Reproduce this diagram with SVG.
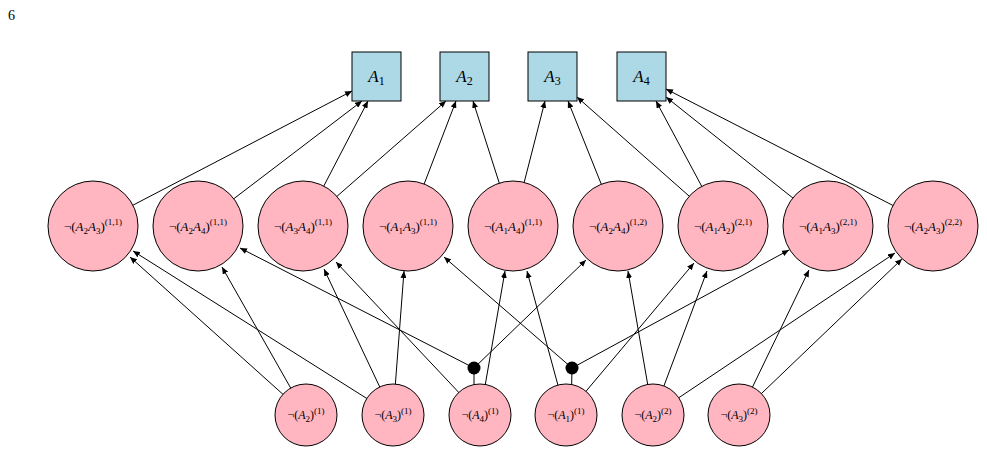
<svg xmlns="http://www.w3.org/2000/svg" width="987" height="454" viewBox="0 0 987 454">
<style>
text{font-family:"Liberation Serif","DejaVu Serif",serif;fill:#000}
.i{font-style:italic}
.box{fill:#add8e6;stroke:#000;stroke-width:1}
.mc{fill:#ffb6c1;stroke:#000;stroke-width:1}
.e{stroke:#000;stroke-width:1;fill:none;marker-end:url(#ah)}
.p{stroke:#000;stroke-width:1;fill:none}
.m{font-size:13px}
.b{font-size:12px}
.s{font-size:9px}
</style>
<defs>
<marker id="ah" markerWidth="7" markerHeight="6" refX="7" refY="3" orient="auto" markerUnits="userSpaceOnUse"><path d="M0,0 L7,3 L0,6 z" fill="#000"/></marker>
</defs>
<text x="8" y="20" font-size="14">6</text>
<g id="connectors">
<line class="e" x1="93" y1="226" x2="352" y2="91"/>
<line class="e" x1="198" y1="226" x2="362" y2="101"/>
<line class="e" x1="303" y1="226" x2="368" y2="101"/>
<line class="e" x1="303" y1="226" x2="446" y2="101"/>
<line class="e" x1="408" y1="226" x2="456" y2="101"/>
<line class="e" x1="513" y1="226" x2="473" y2="101"/>
<line class="e" x1="513" y1="226" x2="545" y2="101"/>
<line class="e" x1="618" y1="226" x2="568" y2="101"/>
<line class="e" x1="723" y1="226" x2="577" y2="97"/>
<line class="e" x1="723" y1="226" x2="656" y2="101"/>
<line class="e" x1="828" y1="226" x2="666" y2="97"/>
<line class="e" x1="933" y1="226" x2="666" y2="89"/>
<line class="e" x1="306" y1="415" x2="130" y2="257"/>
<line class="e" x1="306" y1="415" x2="222" y2="267"/>
<line class="e" x1="393" y1="415" x2="133" y2="251"/>
<line class="e" x1="393" y1="415" x2="324" y2="269"/>
<line class="e" x1="393" y1="415" x2="404" y2="271"/>
<line class="e" x1="480" y1="415" x2="336" y2="262"/>
<line class="e" x1="480" y1="415" x2="505" y2="271"/>
<line class="p" x1="474" y1="415" x2="474" y2="368"/>
<line class="e" x1="474" y1="368" x2="240" y2="248"/>
<line class="e" x1="474" y1="368" x2="586" y2="260"/>
<line class="e" x1="566" y1="415" x2="527" y2="271"/>
<line class="p" x1="571" y1="415" x2="572" y2="368"/>
<line class="e" x1="566" y1="415" x2="694" y2="263"/>
<line class="e" x1="572" y1="368" x2="444" y2="257"/>
<line class="e" x1="572" y1="368" x2="789" y2="250"/>
<line class="e" x1="653" y1="415" x2="628" y2="271"/>
<line class="e" x1="653" y1="415" x2="707" y2="271"/>
<line class="e" x1="653" y1="415" x2="895" y2="253"/>
<line class="e" x1="739" y1="415" x2="809" y2="270"/>
<line class="e" x1="739" y1="415" x2="902" y2="259"/>
</g>
<circle cx="474" cy="368" r="6.5" fill="#000"/>
<circle cx="572" cy="368" r="6.5" fill="#000"/>
<g id="A1"><rect class="box" x="352" y="52" width="49" height="49"/><text x="376.5" y="82" font-size="17" text-anchor="middle"><tspan class="i">A</tspan><tspan font-size="12" dy="3">1</tspan></text></g>
<g id="A2"><rect class="box" x="440" y="52" width="49" height="49"/><text x="464.5" y="82" font-size="17" text-anchor="middle"><tspan class="i">A</tspan><tspan font-size="12" dy="3">2</tspan></text></g>
<g id="A3"><rect class="box" x="528" y="52" width="49" height="49"/><text x="552.5" y="82" font-size="17" text-anchor="middle"><tspan class="i">A</tspan><tspan font-size="12" dy="3">3</tspan></text></g>
<g id="A4"><rect class="box" x="617" y="52" width="49" height="49"/><text x="641.5" y="82" font-size="17" text-anchor="middle"><tspan class="i">A</tspan><tspan font-size="12" dy="3">4</tspan></text></g>
<g id="n_A2A3_11"><circle class="mc" cx="93" cy="226" r="45"/><text class="m" x="93" y="231" text-anchor="middle">¬(<tspan class="i">A</tspan><tspan class="s" dy="3">2</tspan><tspan class="i" dy="-3">A</tspan><tspan class="s" dy="3">3</tspan><tspan dy="-3">)</tspan><tspan class="s" dy="-6">(1,1)</tspan></text></g>
<g id="n_A2A4_11"><circle class="mc" cx="198" cy="226" r="45"/><text class="m" x="198" y="231" text-anchor="middle">¬(<tspan class="i">A</tspan><tspan class="s" dy="3">2</tspan><tspan class="i" dy="-3">A</tspan><tspan class="s" dy="3">4</tspan><tspan dy="-3">)</tspan><tspan class="s" dy="-6">(1,1)</tspan></text></g>
<g id="n_A3A4_11"><circle class="mc" cx="303" cy="226" r="45"/><text class="m" x="303" y="231" text-anchor="middle">¬(<tspan class="i">A</tspan><tspan class="s" dy="3">3</tspan><tspan class="i" dy="-3">A</tspan><tspan class="s" dy="3">4</tspan><tspan dy="-3">)</tspan><tspan class="s" dy="-6">(1,1)</tspan></text></g>
<g id="n_A1A3_11"><circle class="mc" cx="408" cy="226" r="45"/><text class="m" x="408" y="231" text-anchor="middle">¬(<tspan class="i">A</tspan><tspan class="s" dy="3">1</tspan><tspan class="i" dy="-3">A</tspan><tspan class="s" dy="3">3</tspan><tspan dy="-3">)</tspan><tspan class="s" dy="-6">(1,1)</tspan></text></g>
<g id="n_A1A4_11"><circle class="mc" cx="513" cy="226" r="45"/><text class="m" x="513" y="231" text-anchor="middle">¬(<tspan class="i">A</tspan><tspan class="s" dy="3">1</tspan><tspan class="i" dy="-3">A</tspan><tspan class="s" dy="3">4</tspan><tspan dy="-3">)</tspan><tspan class="s" dy="-6">(1,1)</tspan></text></g>
<g id="n_A2A4_12"><circle class="mc" cx="618" cy="226" r="45"/><text class="m" x="618" y="231" text-anchor="middle">¬(<tspan class="i">A</tspan><tspan class="s" dy="3">2</tspan><tspan class="i" dy="-3">A</tspan><tspan class="s" dy="3">4</tspan><tspan dy="-3">)</tspan><tspan class="s" dy="-6">(1,2)</tspan></text></g>
<g id="n_A1A2_21"><circle class="mc" cx="723" cy="226" r="45"/><text class="m" x="723" y="231" text-anchor="middle">¬(<tspan class="i">A</tspan><tspan class="s" dy="3">1</tspan><tspan class="i" dy="-3">A</tspan><tspan class="s" dy="3">2</tspan><tspan dy="-3">)</tspan><tspan class="s" dy="-6">(2,1)</tspan></text></g>
<g id="n_A1A3_21"><circle class="mc" cx="828" cy="226" r="45"/><text class="m" x="828" y="231" text-anchor="middle">¬(<tspan class="i">A</tspan><tspan class="s" dy="3">1</tspan><tspan class="i" dy="-3">A</tspan><tspan class="s" dy="3">3</tspan><tspan dy="-3">)</tspan><tspan class="s" dy="-6">(2,1)</tspan></text></g>
<g id="n_A2A3_22"><circle class="mc" cx="933" cy="226" r="45"/><text class="m" x="933" y="231" text-anchor="middle">¬(<tspan class="i">A</tspan><tspan class="s" dy="3">2</tspan><tspan class="i" dy="-3">A</tspan><tspan class="s" dy="3">3</tspan><tspan dy="-3">)</tspan><tspan class="s" dy="-6">(2,2)</tspan></text></g>
<g id="b_A2_1"><circle class="mc" cx="306" cy="415" r="31"/><text class="b" x="306" y="419" text-anchor="middle">¬(<tspan class="i">A</tspan><tspan class="s" dy="3">2</tspan><tspan dy="-3">)</tspan><tspan class="s" dy="-5">(1)</tspan></text></g>
<g id="b_A3_1"><circle class="mc" cx="393" cy="415" r="31"/><text class="b" x="393" y="419" text-anchor="middle">¬(<tspan class="i">A</tspan><tspan class="s" dy="3">3</tspan><tspan dy="-3">)</tspan><tspan class="s" dy="-5">(1)</tspan></text></g>
<g id="b_A4_1"><circle class="mc" cx="480" cy="415" r="31"/><text class="b" x="480" y="419" text-anchor="middle">¬(<tspan class="i">A</tspan><tspan class="s" dy="3">4</tspan><tspan dy="-3">)</tspan><tspan class="s" dy="-5">(1)</tspan></text></g>
<g id="b_A1_1"><circle class="mc" cx="566" cy="415" r="31"/><text class="b" x="566" y="419" text-anchor="middle">¬(<tspan class="i">A</tspan><tspan class="s" dy="3">1</tspan><tspan dy="-3">)</tspan><tspan class="s" dy="-5">(1)</tspan></text></g>
<g id="b_A2_2"><circle class="mc" cx="653" cy="415" r="31"/><text class="b" x="653" y="419" text-anchor="middle">¬(<tspan class="i">A</tspan><tspan class="s" dy="3">2</tspan><tspan dy="-3">)</tspan><tspan class="s" dy="-5">(2)</tspan></text></g>
<g id="b_A3_2"><circle class="mc" cx="739" cy="415" r="31"/><text class="b" x="739" y="419" text-anchor="middle">¬(<tspan class="i">A</tspan><tspan class="s" dy="3">3</tspan><tspan dy="-3">)</tspan><tspan class="s" dy="-5">(2)</tspan></text></g>
</svg>
